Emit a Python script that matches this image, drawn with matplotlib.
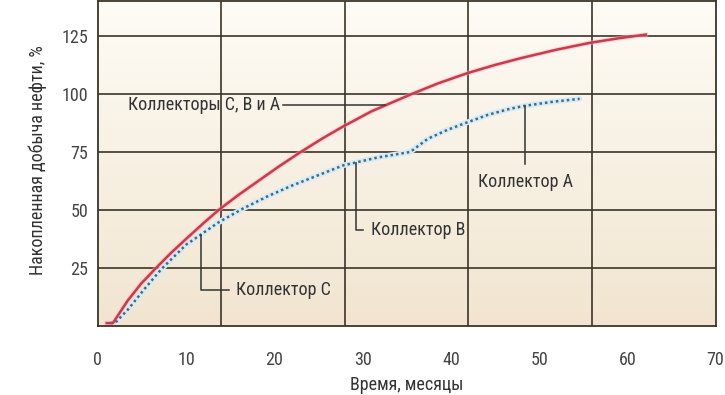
import numpy as np
import matplotlib
matplotlib.use("Agg")
import matplotlib.pyplot as plt

plt.rcParams['font.family'] = ['Roboto Condensed', 'Liberation Sans Narrow',
                               'Liberation Sans', 'DejaVu Sans']

# data
x_all = [1.0, 1.7, 3.4, 4.9, 6.6, 8.3, 10.0, 12.0, 13.7, 15.8, 18.0, 20.5, 23.0,
         25.4, 27.8, 31.0, 35.4, 38.5, 41.9, 45.0, 48.0, 52.0, 55.7, 59.0, 62.1]
y_all = [1.2, 1.2, 11.0, 18.2, 25.0, 31.5, 37.5, 44.4, 50.0, 56.1, 62.0, 68.7, 75.0,
         80.7, 86.0, 92.5, 99.7, 104.5, 109.0, 112.5, 115.5, 119.1, 122.0, 124.0, 125.6]

x_sep = [1.4, 2.0, 3.4, 5.3, 7.2, 10.0, 13.7, 16.5, 19.2, 22.0, 25.0, 27.8, 31.7,
         35.4, 37.4, 39.6, 41.75, 44.2, 46.7, 48.4, 51.5, 54.6]
y_sep = [1.2, 1.5, 7.0, 16.0, 24.5, 35.0, 44.7, 50.7, 55.8, 60.5, 65.0, 69.2, 72.6,
         75.0, 80.7, 84.5, 87.6, 91.0, 93.6, 94.9, 96.6, 97.9]

xticks = [0, 10, 20, 30, 40, 50, 60, 70]
yticks = [25, 50, 75, 100, 125]
xgrid = [14, 28, 42, 56]

text_col = '#333333'
grid_col = '#3b3428'
fs = 13

fig = plt.figure(figsize=(7.25, 3.95), dpi=100)
ax = fig.add_axes([0.135, 0.175, 0.852, 0.822])

# background gradient, light at top and beige at bottom
top = np.array([254, 252, 246]) / 255
bot = np.array([241, 229, 208]) / 255
t = np.linspace(0, 1, 256)[:, None]
grad = (top * (1 - t) + bot * t)[:, None, :]
ax.imshow(grad, extent=[0, 70, 0, 140], aspect='auto', zorder=0)

ax.set_xlim(0, 70)
ax.set_ylim(0, 140)

for g in xgrid:
    ax.axvline(g, color=grid_col, lw=1.2, zorder=1)
for g in yticks:
    ax.axhline(g, color=grid_col, lw=1.2, zorder=1)

# curves
ax.plot(x_sep, y_sep, color='#d6ebf5', lw=4, solid_capstyle='round', zorder=2)
ax.plot(x_sep, y_sep, color='#3c6e80', lw=1.8, ls=(0, (1, 1.2)), zorder=3)
ax.plot(x_all, y_all, color='#f4b7be', lw=3.2, zorder=2, alpha=0.5)
ax.plot(x_all, y_all, color='#d7344a', lw=1.8, zorder=4)

# callouts
lc = '#333333'
ax.plot([21.0, 32.5], [95.4, 95.4], color=lc, lw=1.1, zorder=5)
ax.text(3.4, 95.4, 'Коллекторы С, В и А', fontsize=fs, color=text_col,
        ha='left', va='center', zorder=5)

ax.plot([11.7, 11.7, 14.9], [39.1, 15.5, 15.5], color=lc, lw=1.1, zorder=5)
ax.text(15.6, 15.5, 'Коллектор С', fontsize=fs, color=text_col,
        ha='left', va='center', zorder=5)

ax.plot([29.3, 29.3, 30.0], [70.4, 41.2, 41.2], color=lc, lw=1.1, zorder=5)
ax.text(30.9, 41.2, 'Коллектор В', fontsize=fs, color=text_col,
        ha='left', va='center', zorder=5)

ax.plot([48.4, 48.4], [94.9, 70.0], color=lc, lw=1.1, zorder=5)
ax.text(48.5, 61.9, 'Коллектор А', fontsize=fs, color=text_col,
        ha='center', va='center', zorder=5)

ax.set_xticks(xticks)
ax.set_yticks(yticks)
ax.tick_params(length=0, labelsize=fs, labelcolor='#444444')
ax.tick_params(axis='x', pad=18)
ax.tick_params(axis='y', pad=7)

for s in ax.spines.values():
    s.set_color(grid_col)
    s.set_linewidth(1.3)

ax.set_xlabel('Время, месяцы', fontsize=fs, color=text_col, labelpad=5)
ax.set_ylabel('Накопленная добыча нефти, %', fontsize=fs, color=text_col)
ax.yaxis.set_label_coords(-0.082, 0.51)

fig.savefig('out.png', dpi=100)
